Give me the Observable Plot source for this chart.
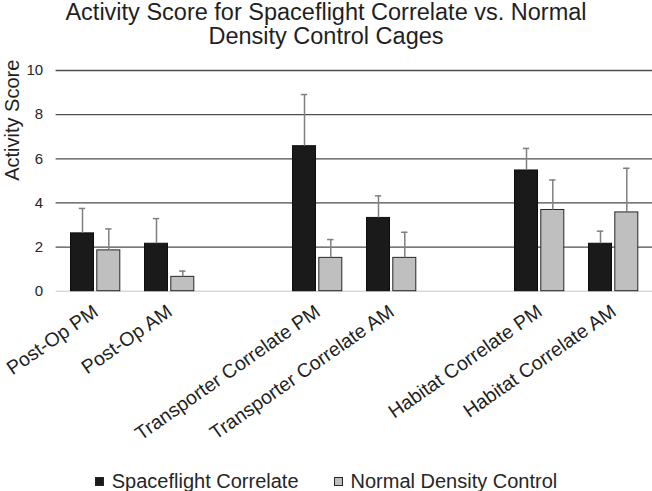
<!DOCTYPE html>
<html><head><meta charset="utf-8">
<script src="https://cdn.jsdelivr.net/npm/d3@7"></script>
<script src="https://cdn.jsdelivr.net/npm/@observablehq/plot@0.6"></script>
<style>
html,body{margin:0;padding:0;background:#fff;overflow:hidden}
body{width:652px;height:491px;font-family:"Liberation Sans",Arial,Helvetica,sans-serif;color:#262626}
#title{font-size:23.5px;line-height:24px;text-align:center;height:46px;white-space:nowrap;color:#1f1f1f}
#chart{height:420px}
#legend{display:flex;justify-content:center;gap:35px;font-size:20px;line-height:20px;padding-top:5px;height:20px}
.item{display:flex;align-items:center}
.sw{width:7px;height:7px;margin-right:8px;border:1px solid #262626}
</style></head><body>
<div id="title">Activity Score for Spaceflight Correlate vs. Normal<br>Density Control Cages</div>
<div id="chart"></div>
<div id="legend"></div>
<script>
// ---- data ----
const categories = ["Post-Op PM", "Post-Op AM", "Transporter Correlate PM", "Transporter Correlate AM", "Habitat Correlate PM", "Habitat Correlate AM"];
const slots = ["Post-Op PM", "Post-Op AM", " ", "Transporter Correlate PM", "Transporter Correlate AM", "  ", "Habitat Correlate PM", "Habitat Correlate AM"];
const seriesNames = ["Spaceflight Correlate", "Normal Density Control"];
const spaceflight = [2.62, 2.15, 6.57, 3.32, 5.47, 2.15];
const spaceflightErr = [1.13, 1.14, 2.34, 1.00, 1.00, 0.57];
const control = [1.85, 0.65, 1.51, 1.51, 3.68, 3.57];
const controlErr = [0.97, 0.26, 0.83, 1.16, 1.36, 2.00];
const yTicks = [0, 2, 4, 6, 8, 10];
const gridTicks = [2, 4, 6, 8, 10];
const yLabel = "Activity Score";

const colors = {"Spaceflight Correlate": "#1a1a1a", "Normal Density Control": "#bfbfbf"};
const sf = categories.map((c, i) => ({category: c, series: seriesNames[0], value: spaceflight[i], top: spaceflight[i] + spaceflightErr[i]}));
const nd = categories.map((c, i) => ({category: c, series: seriesNames[1], value: control[i], top: control[i] + controlErr[i]}));

const errStyle = {stroke: "#808080", strokeWidth: 1.5};
const plot = Plot.plot({
  width: 652, height: 420,
  marginTop: 24, marginBottom: 175.3, marginLeft: 55.6, marginRight: 0,
  style: {fontFamily: '"Liberation Sans", Arial, sans-serif', fontSize: "15px", color: "#262626", background: "white"},
  x: {type: "band", domain: slots, padding: 0, axis: null},
  y: {domain: [0, 10], ticks: yTicks, tickSize: 0, tickPadding: 13, label: null},
  marks: [
    Plot.ruleY(gridTicks, {stroke: "#4d4d4d", strokeWidth: 1.3}),
    Plot.ruleY([0], {stroke: "#d9d9d9", strokeWidth: 1.5}),
    Plot.barY(sf, {x: "category", y: "value", fill: colors[seriesNames[0]], stroke: "#0d0d0d", strokeWidth: 1, insetLeft: 25.5, insetRight: 25.5, dx: -13}),
    Plot.barY(nd, {x: "category", y: "value", fill: colors[seriesNames[1]], stroke: "#262626", strokeWidth: 1, insetLeft: 25.5, insetRight: 25.5, dx: 13.3}),
    Plot.ruleX(sf, {x: "category", y1: "value", y2: "top", ...errStyle, dx: -13}),
    Plot.ruleX(nd, {x: "category", y1: "value", y2: "top", ...errStyle, dx: 13.3}),
    Plot.tickY(sf, {x: "category", y: "top", ...errStyle, insetLeft: 33.8, insetRight: 33.8, dx: -13}),
    Plot.tickY(nd, {x: "category", y: "top", ...errStyle, insetLeft: 33.8, insetRight: 33.8, dx: 13.3}),
    Plot.text(categories, {x: d => d, frameAnchor: "bottom", textAnchor: "end", lineAnchor: "top", rotate: -35, fontSize: 19.5, dx: -4, dy: 12, fill: "#1f1f1f"}),
    Plot.text([yLabel], {text: d => d, frameAnchor: "left", rotate: -90, dx: -44, fontSize: 20, fill: "#1f1f1f"})
  ]
});
document.getElementById("chart").appendChild(plot);

const legend = document.getElementById("legend");
seriesNames.forEach(name => {
  const item = document.createElement("div");
  item.className = "item";
  const sw = document.createElement("span");
  sw.className = "sw";
  sw.style.background = colors[name];
  const label = document.createElement("span");
  label.textContent = name;
  item.appendChild(sw); item.appendChild(label);
  legend.appendChild(item);
});
</script>
</body></html>
